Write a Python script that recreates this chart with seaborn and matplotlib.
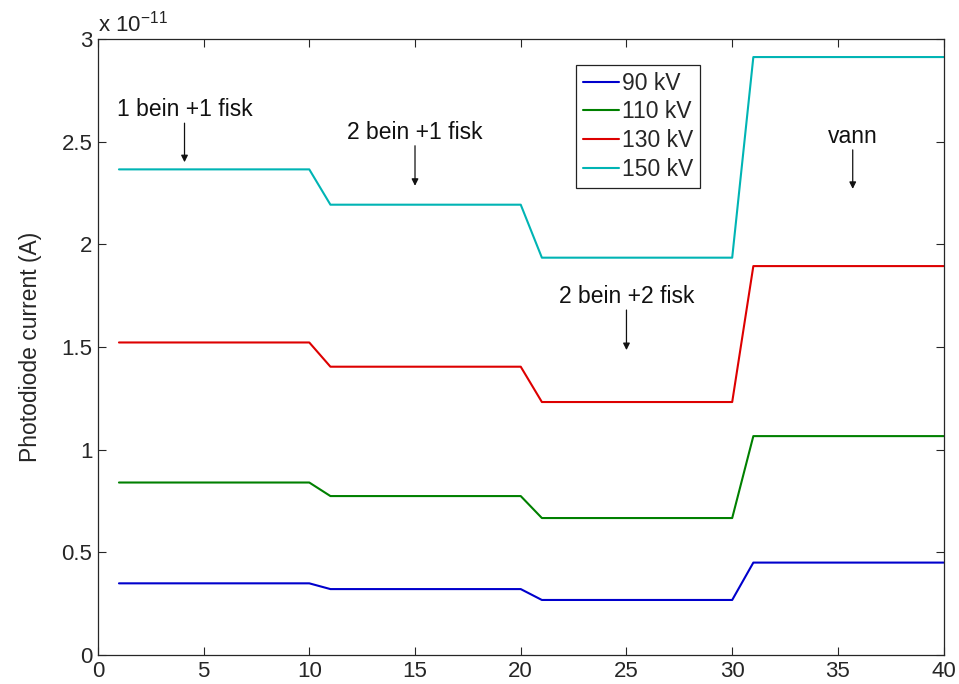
import matplotlib
matplotlib.use("Agg")
import matplotlib.pyplot as plt
import seaborn as sns
import pandas as pd

# Breakpoints of the measurement index (flat segments joined by one-step ramps)
x_points = [1, 10, 11, 20, 21, 30, 31, 40]
series_names = ["90 kV", "110 kV", "130 kV", "150 kV"]
# Photodiode current in units of 1e-11 A
i_90 = [0.349, 0.349, 0.321, 0.321, 0.268, 0.268, 0.450, 0.450]
i_110 = [0.840, 0.840, 0.774, 0.774, 0.667, 0.667, 1.066, 1.066]
i_130 = [1.522, 1.522, 1.404, 1.404, 1.232, 1.232, 1.894, 1.894]
i_150 = [2.365, 2.365, 2.193, 2.193, 1.935, 1.935, 2.912, 2.912]
colors = ["#0000cc", "#008000", "#dd0000", "#00b4b4"]

annotations = ["1 bein +1 fisk", "2 bein +1 fisk", "2 bein +2 fisk", "vann"]
ann_x = [4.1, 15.0, 25.0, 35.7]
ann_text_y = [2.655, 2.545, 1.745, 2.525]
ann_tip_y = [2.40, 2.285, 1.485, 2.27]

x_ticks = [0, 5, 10, 15, 20, 25, 30, 35, 40]
y_ticks = [0, 0.5, 1, 1.5, 2, 2.5, 3]

sns.set_style("ticks")
plt.rcParams["font.family"] = ["Liberation Sans", "DejaVu Sans"]
plt.rcParams["mathtext.fontset"] = "custom"
plt.rcParams["mathtext.rm"] = "Liberation Sans"
plt.rcParams["mathtext.default"] = "regular"

rows = []
for name, vals in zip(series_names, [i_90, i_110, i_130, i_150]):
    for xv, yv in zip(x_points, vals):
        rows.append({"x": xv, "y": yv, "series": name})
df = pd.DataFrame(rows)

fig = plt.figure(figsize=(9.59, 6.84), dpi=100)
ax = fig.add_axes([0.102, 0.0424, 0.882, 0.9006])

sns.lineplot(data=df, x="x", y="y", hue="series", hue_order=series_names,
             palette=colors, sort=False, linewidth=1.5, ax=ax, estimator=None)

ax.set_xlim(0, 40)
ax.set_ylim(0, 3)
ax.set_xticks(x_ticks)
ax.set_yticks(y_ticks)
ax.set_xticklabels([f"{v:g}" for v in x_ticks])
ax.set_yticklabels([f"{v:g}" for v in y_ticks])
ax.set_xlabel("")
ax.set_ylabel("Photodiode current (A)", fontsize=16.5, labelpad=14)
ax.tick_params(direction="in", length=6, width=0.8, top=True, right=True,
               labelsize=16, colors="#262626", pad=4)
for s in ax.spines.values():
    s.set_visible(True)
    s.set_color("#262626")
    s.set_linewidth(0.9)

ax.text(0.0, 1.004, r"x 10$^{-11}$", transform=ax.transAxes, ha="left",
        va="bottom", fontsize=16, color="#222222")

for t, xa, ty, tip in zip(annotations, ann_x, ann_text_y, ann_tip_y):
    ax.text(xa, ty, t, ha="center", va="center", fontsize=16.5, color="#111111")
    ax.annotate("", xy=(xa, tip), xytext=(xa, ty - 0.065),
                arrowprops=dict(arrowstyle="-|>", color="#111111", lw=0.9,
                                mutation_scale=10, shrinkA=0, shrinkB=0))

leg = ax.legend(loc="upper left", bbox_to_anchor=(0.565, 0.958),
                borderaxespad=0, fontsize=16.5, frameon=True, fancybox=False,
                framealpha=1, edgecolor="#222222", handlelength=1.6,
                handletextpad=0.1, labelspacing=0.25, borderpad=0.3)
leg.get_frame().set_linewidth(0.9)

fig.savefig("out.png", dpi=100)
